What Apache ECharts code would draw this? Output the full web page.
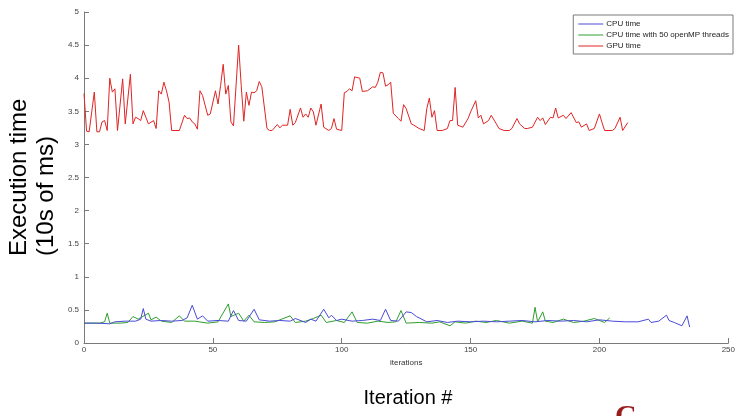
<!DOCTYPE html>
<html>
<head>
<meta charset="utf-8">
<script src="https://cdn.jsdelivr.net/npm/echarts@6/dist/echarts.min.js"></script>
<style>
  html, body { margin: 0; padding: 0; background: #fff; }
  #chart { width: 738px; height: 416px; }
</style>
</head>
<body>
<div id="chart"></div>
<script>
// GPU time (red), iteration -> value
var gpuIter = [0,1,2,4,5,6,7,8,9,10,11,12,13,15,16,18,19,20,21,22,23,24,25,27,28,29,30,31,32,33,34,37,39,40,41,42,43,44,45,46,48,49,51,52,53,54,55,56,57,58,60,61,62,63,64,65,66,67,68,69,71,72,73,75,76,77,79,80,81,82,84,85,86,87,88,89,90,92,93,95,96,97,98,100,101,102,103,104,105,107,108,110,112,113,114,115,116,117,118,119,120,122,123,124,125,127,128,130,132,133,134,135,136,137,139,141,142,143,144,145,147,149,150,152,153,154,155,157,158,160,161,163,165,166,168,169,171,172,174,176,177,178,179,181,182,183,184,186,187,189,191,192,193,195,196,198,200,201,202,205,206,208,209,211];
var gpuTime = [3.77,3.2,3.19,3.79,3.19,3.19,3.34,3.36,3.21,4.0,3.79,3.84,3.21,3.99,3.31,4.06,3.31,3.41,3.39,3.36,3.51,3.41,3.31,3.36,3.24,3.81,3.76,3.94,3.81,3.64,3.21,3.21,3.44,3.39,3.4,3.34,3.31,3.23,3.81,3.74,3.44,3.46,3.81,3.61,3.89,4.21,3.76,3.89,3.34,3.28,4.5,3.89,3.35,3.79,3.59,3.79,3.78,3.81,3.95,3.87,3.24,3.21,3.21,3.3,3.25,3.29,3.29,3.53,3.29,3.33,3.55,3.41,3.46,3.41,3.55,3.49,3.29,3.61,3.26,3.21,3.24,3.39,3.23,3.21,3.78,3.8,3.84,3.81,4.02,4.0,3.8,3.81,3.87,3.86,3.94,4.09,4.08,3.88,3.9,3.94,3.47,3.39,3.35,3.6,3.54,3.31,3.29,3.24,3.21,3.54,3.7,3.41,3.51,3.21,3.21,3.24,3.36,3.36,3.86,3.29,3.26,3.39,3.49,3.66,3.4,3.44,3.31,3.36,3.44,3.31,3.24,3.21,3.21,3.24,3.39,3.31,3.24,3.24,3.26,3.41,3.36,3.4,3.3,3.41,3.4,3.55,3.4,3.44,3.39,3.48,3.33,3.34,3.26,3.31,3.21,3.24,3.46,3.33,3.21,3.21,3.24,3.41,3.21,3.33];

// CPU time (blue)
var cpuIter = [0,5,10,12,16,20,22,23,24,26,30,34,38,40,42,44,46,48,52,56,58,60,63,66,68,72,76,80,82,86,88,90,93,95,96,98,100,104,108,112,115,117,119,122,125,127,129,133,137,141,145,150,155,160,165,170,175,180,185,190,195,200,205,210,215,219,220,223,226,227,229,232,234,235];
var cpuTime = [0.3,0.3,0.29,0.32,0.33,0.33,0.36,0.52,0.36,0.33,0.34,0.33,0.34,0.38,0.57,0.36,0.41,0.33,0.34,0.33,0.49,0.34,0.33,0.51,0.35,0.33,0.34,0.33,0.37,0.31,0.36,0.33,0.51,0.38,0.42,0.34,0.36,0.33,0.34,0.36,0.34,0.51,0.34,0.33,0.47,0.46,0.4,0.32,0.34,0.31,0.33,0.32,0.33,0.32,0.33,0.34,0.32,0.34,0.33,0.34,0.32,0.35,0.33,0.32,0.32,0.36,0.31,0.33,0.42,0.34,0.31,0.26,0.41,0.24];

// CPU time with 50 openMP threads (green)
var ompIter = [0,6,8,9,10,14,17,19,21,25,26,28,30,34,37,39,43,48,52,56,57,60,62,64,66,70,74,80,82,86,89,92,94,98,101,104,106,110,114,118,121,123,125,130,135,138,142,144,148,152,156,160,165,170,174,175,176,178,179,182,186,190,194,198,202,204];
var ompTime = [0.3,0.3,0.32,0.45,0.3,0.3,0.31,0.4,0.36,0.45,0.35,0.39,0.33,0.31,0.41,0.33,0.33,0.3,0.32,0.59,0.4,0.45,0.33,0.42,0.32,0.31,0.32,0.41,0.31,0.33,0.37,0.42,0.31,0.34,0.31,0.47,0.31,0.3,0.33,0.31,0.32,0.49,0.3,0.31,0.3,0.32,0.26,0.32,0.3,0.33,0.31,0.34,0.3,0.33,0.3,0.54,0.32,0.47,0.33,0.31,0.36,0.31,0.33,0.37,0.31,0.38];

var seriesNames = ['CPU time', 'CPU time with 50 openMP threads', 'GPU time'];
var seriesColors = ['#4a4ad8', '#2f9e2f', '#e02424'];

function pairs(xs, ys) {
    return xs.map(function (x, k) { return [x, ys[k]]; });
}

var chart = echarts.init(document.getElementById('chart'));
var labelFont = 'Liberation Sans, Arial, sans-serif';

function lineSeries(k, xs, ys, z) {
    return {
        name: seriesNames[k],
        type: 'line',
        symbol: 'none',
        z: z,
        color: seriesColors[k],
        lineStyle: { width: 1, color: seriesColors[k] },
        data: pairs(xs, ys)
    };
}

var option = {
    animation: false,
    backgroundColor: '#fff',
    color: seriesColors,
    grid: { left: 84, right: 4, top: 12, bottom: 73 },
    legend: {
        orient: 'vertical',
        right: 5,
        top: 15,
        itemWidth: 25,
        itemHeight: 1,
        itemGap: 3,
        padding: [5, 4, 4, 5],
        borderColor: '#7a7a7a',
        borderWidth: 1,
        backgroundColor: '#fff',
        textStyle: { fontSize: 8, color: '#222', fontFamily: labelFont, padding: [0, 0, 0, -2] },
        data: seriesNames.map(function (n, k) {
            return { name: n, icon: 'rect', itemStyle: { color: seriesColors[k] } };
        })
    },
    xAxis: {
        type: 'value',
        min: 0,
        max: 250,
        interval: 50,
        name: 'iterations',
        nameLocation: 'middle',
        nameGap: 15,
        nameTextStyle: { fontSize: 8, color: '#333', fontFamily: labelFont },
        axisLine: { lineStyle: { color: '#7a7a7a' } },
        axisTick: { inside: true, length: 5, lineStyle: { color: '#7a7a7a' } },
        axisLabel: { fontSize: 8, color: '#444', margin: 3, fontFamily: labelFont },
        splitLine: { show: false }
    },
    yAxis: {
        type: 'value',
        min: 0,
        max: 5,
        interval: 0.5,
        axisLine: { show: true, lineStyle: { color: '#7a7a7a' } },
        axisTick: { show: true, inside: true, length: 5, lineStyle: { color: '#7a7a7a' } },
        axisLabel: { fontSize: 8, color: '#444', margin: 5, fontFamily: labelFont },
        splitLine: { show: false }
    },
    series: [
        lineSeries(0, cpuIter, cpuTime, 3),
        lineSeries(1, ompIter, ompTime, 2),
        lineSeries(2, gpuIter, gpuTime, 2)
    ],
    graphic: [
        {
            type: 'text',
            x: 33,
            y: 256,
            rotation: Math.PI / 2,
            style: {
                text: 'Execution time\n(10s of ms)',
                font: '24px Liberation Sans, Arial, sans-serif',
                fill: '#000',
                align: 'left',
                verticalAlign: 'middle',
                lineHeight: 27
            }
        },
        {
            type: 'text',
            x: 408,
            y: 398,
            style: {
                text: 'Iteration #',
                font: '20px Liberation Sans, Arial, sans-serif',
                fill: '#000',
                align: 'center',
                verticalAlign: 'middle'
            }
        },
        {
            type: 'text',
            x: 615,
            y: 402,
            style: {
                text: 'C',
                font: 'bold 30px Liberation Serif, Times New Roman, serif',
                fill: '#9a1c1c',
                align: 'left',
                verticalAlign: 'top'
            }
        }
    ]
};

chart.setOption(option);
</script>
</body>
</html>
